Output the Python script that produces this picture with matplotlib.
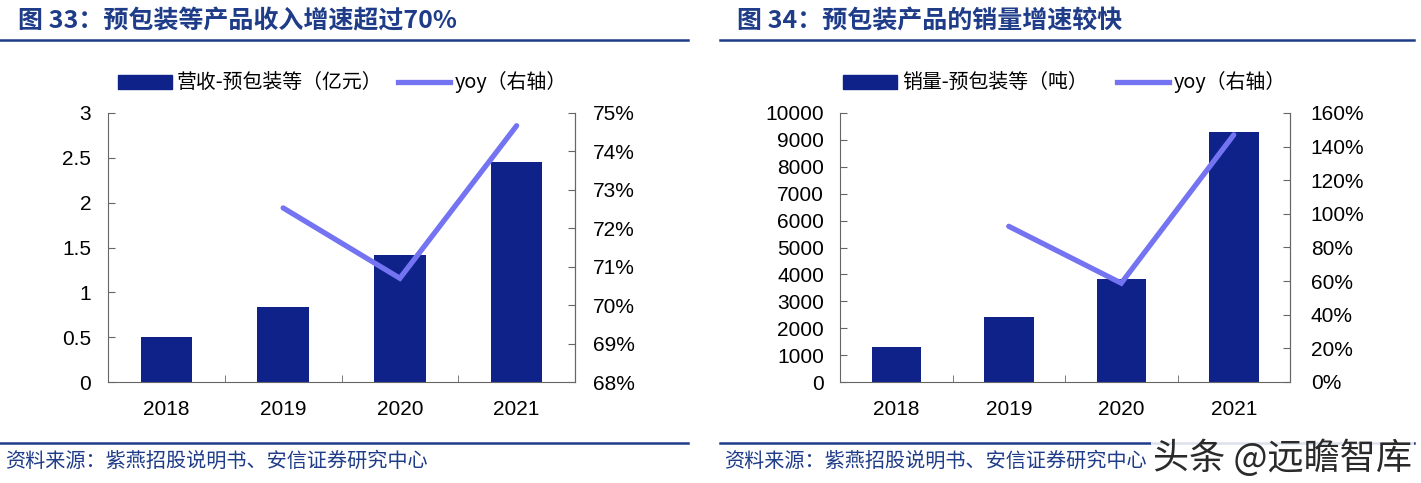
import matplotlib
matplotlib.use("Agg")
import matplotlib.pyplot as plt
from matplotlib.patches import Rectangle
from matplotlib.lines import Line2D
from matplotlib.ticker import FuncFormatter

plt.rcParams['font.family'] = ['Liberation Sans', 'Noto Sans CJK SC', 'DejaVu Sans']

years = ['2018', '2019', '2020', '2021']
revenue = [0.50, 0.84, 1.42, 2.45]            # 亿元
revenue_yoy = [None, 72.53, 70.70, 74.67]      # %
volume = [1300, 2430, 3840, 9300]              # 吨
volume_yoy = [None, 92.6, 58.8, 147.0]         # %

title1 = '图 33：预包装等产品收入增速超过70%'
title2 = '图 34：预包装产品的销量增速较快'
legend_bar1 = '营收-预包装等（亿元）'
legend_bar2 = '销量-预包装等（吨）'
legend_line = 'yoy（右轴）'
source = '资料来源：紫燕招股说明书、安信证券研究中心'

W, H = 1421, 483
BAR = '#0F228A'
LINE = '#7474F2'
NAVY = '#1F3C88'
CJK = ['Noto Sans CJK SC', 'DejaVu Sans']
TS = 15
TC = '#666666'

fig = plt.figure(figsize=(W / 100, H / 100), dpi=100)


def px(x0, y0, x1, y1):
    return [x0 / W, 1 - y1 / H, (x1 - x0) / W, (y1 - y0) / H]


def fx(x):
    return x / W


def fy(y):
    return 1 - y / H


def make_chart(rect, bars, yoy, ylim, yticks, yfmt, rlim, rticks, rfmt, lpad, rpad):
    ax = fig.add_axes(rect)
    xs = list(range(len(years)))
    ax.bar(xs, bars, width=0.44, color=BAR, zorder=2)
    ax.set_xlim(-0.5, len(years) - 0.5)
    ax.set_ylim(*ylim)
    ax.set_yticks(yticks)
    ax.yaxis.set_major_formatter(FuncFormatter(yfmt))
    ax.set_xticks(xs)
    ax.set_xticklabels(years)
    ax.set_xticks([x + 0.5 for x in xs[:-1]], minor=True)
    ax.tick_params(axis='x', which='major', length=0, pad=13, labelsize=TS)
    ax.tick_params(axis='x', which='minor', length=5, direction='in', color=TC)
    ax.tick_params(axis='y', length=5, direction='in', labelsize=TS, pad=lpad, color=TC)
    ax.spines['top'].set_visible(False)
    for s in ['left', 'bottom', 'right']:
        ax.spines[s].set_color(TC)
    ax2 = ax.twinx()
    lx = [x for x, v in zip(xs, yoy) if v is not None]
    ly = [v for v in yoy if v is not None]
    ax2.plot(lx, ly, color=LINE, lw=3.8, solid_capstyle='round', solid_joinstyle='miter', zorder=3)
    ax2.set_ylim(*rlim)
    ax2.set_yticks(rticks)
    ax2.yaxis.set_major_formatter(FuncFormatter(rfmt))
    ax2.tick_params(axis='y', length=5, direction='in', labelsize=TS, pad=rpad, color=TC)
    ax2.spines['top'].set_visible(False)
    ax2.spines['right'].set_color(TC)
    ax2.spines['left'].set_visible(False)
    ax2.spines['bottom'].set_visible(False)
    return ax, ax2


def numfmt(v, p):
    return ('%g' % v)


def pctfmt(v, p):
    return '%d%%' % round(v)


make_chart(px(108, 113, 575, 382), revenue, revenue_yoy, (0, 3), [0, 0.5, 1, 1.5, 2, 2.5, 3],
           numfmt, (68, 75), list(range(68, 76)), pctfmt, 12, 13)
make_chart(px(840, 113, 1290, 382), volume, volume_yoy, (0, 10000), list(range(0, 10001, 1000)),
           numfmt, (0, 160), list(range(0, 161, 20)), pctfmt, 11.5, 15)

# titles and rules
for x0, x1, t, tx in [(0, 688, title1, 18), (720, 1414, title2, 737)]:
    fig.text(fx(tx), fy(21), t, family=CJK, fontsize=18, fontweight='bold', color=NAVY,
             ha='left', va='center')
    fig.add_artist(Line2D([fx(x0), fx(x1)], [fy(40), fy(40)], color=NAVY, lw=1.8))
    fig.add_artist(Line2D([fx(x0), fx(x1)], [fy(443), fy(443)], color=NAVY, lw=1.8))

fig.text(fx(5), fy(461), source, family=CJK, fontsize=14.5, color=NAVY, style='italic',
         ha='left', va='center')
fig.text(fx(724), fy(461), source, family=CJK, fontsize=14.5, color=NAVY, style='italic',
         ha='left', va='center')

# legends
for bx, btxt, lx0 in [(118, legend_bar1, 398), (843, legend_bar2, 1117)]:
    fig.add_artist(Rectangle((fx(bx), fy(89)), (54) / W, 14 / H, color=BAR, transform=fig.transFigure))
    fig.text(fx(bx + 59), fy(82), btxt, family=CJK, fontsize=14.3, ha='left', va='center')
    fig.add_artist(Line2D([fx(lx0), fx(lx0 + 52)], [fy(82), fy(82)], color=LINE, lw=3.8))
    fig.text(fx(lx0 + 57), fy(82), legend_line, family=CJK, fontsize=14.3, ha='left', va='center')

# watermark
fig.text(fx(1412), fy(458), '头条 @远瞻智库', family=CJK, fontsize=26, color='#2a2a2a',
         ha='right', va='center',
         bbox=dict(boxstyle='square,pad=0.05', fc='white', ec='none', alpha=0.85))

fig.savefig('out.png', dpi=100)
